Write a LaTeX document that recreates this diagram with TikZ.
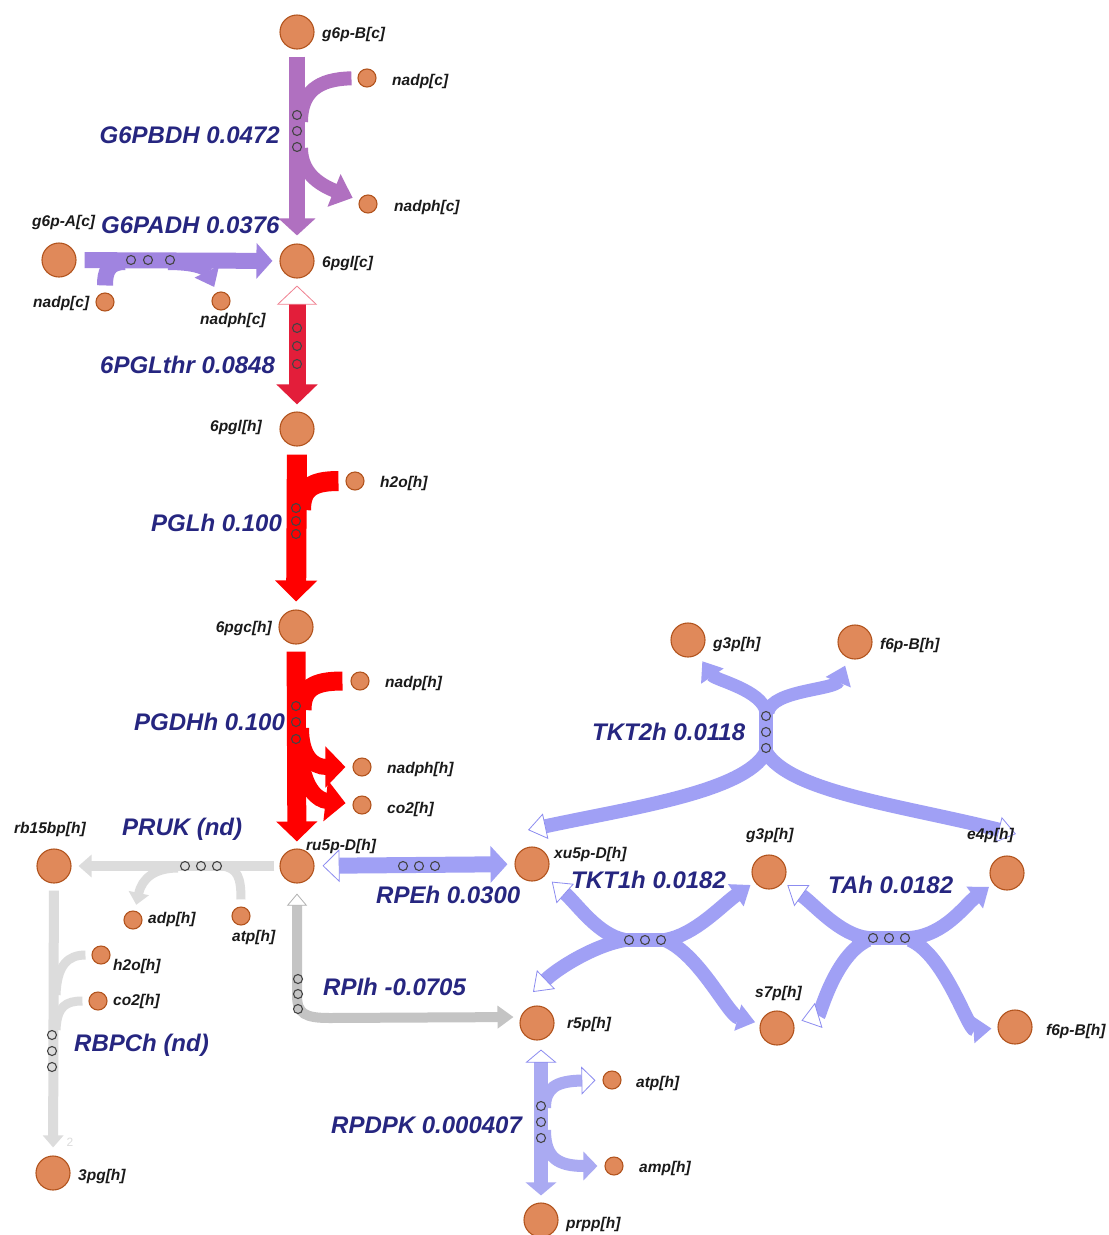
\documentclass[tikz,border=0pt]{standalone}
\usepackage{fontspec}
\newfontfamily\lsans{Liberation Sans}
\usetikzlibrary{arrows.meta}
\definecolor{metfill}{HTML}{E0895A}
\definecolor{metdraw}{HTML}{B2541E}
\definecolor{cB}{HTML}{B070C0}
\definecolor{cA}{HTML}{A084E0}
\definecolor{cC}{HTML}{E31E3A}
\definecolor{cCl}{HTML}{F08090}
\definecolor{cR}{HTML}{FF0000}
\definecolor{cP}{HTML}{A0A0F5}
\definecolor{cPd}{HTML}{8C8CF0}
\definecolor{cP2}{HTML}{AAAAF2}
\definecolor{cG}{HTML}{C4C4C4}
\definecolor{cGd}{HTML}{B0B0B0}
\definecolor{cL}{HTML}{DCDCDC}
\definecolor{navy}{HTML}{262680}
\definecolor{mtext}{HTML}{1A1A1A}
\definecolor{dotc}{HTML}{444444}
\begin{document}
\begin{tikzpicture}[x=1pt,y=-1pt,
  met/.style={circle,fill=metfill,draw=metdraw,line width=1.1pt,inner sep=0pt,minimum size=34pt},
  mets/.style={met,minimum size=18pt},
  ml/.style={font=\lsans\bfseries\itshape\fontsize{15.5}{18}\selectfont,text=mtext,inner sep=0pt},
  rl/.style={font=\lsans\bfseries\itshape\fontsize{24}{28}\selectfont,text=navy,inner sep=0pt},
  rdot/.style={circle,draw=dotc,line width=1.1pt,minimum size=9pt,inner sep=0pt},
  openP/.style={-{Triangle[open,fill=white,color=cPd,line width=0.8pt,length=18pt,width=26pt]}},
  fillP/.style={-{Triangle[length=18pt,width=26pt]}}
]
\fill[white] (0,0) rectangle (1109,1235);
\useasboundingbox (0,0) rectangle (1109,1235);

% ---------- metabolites ----------
\node[met] (g6pBc) at (297,32) {};
\node[mets] (nadpc1) at (367,78) {};
\node[mets] (nadphc1) at (368,204) {};
\node[met] (pglc) at (297,261) {};
\node[met] (g6pAc) at (59,260) {};
\node[mets] (nadpc2) at (105,302) {};
\node[mets] (nadphc2) at (221,301) {};
\node[met] (pglh) at (297,429) {};
\node[mets] (h2oh1) at (355,481) {};
\node[met] (pgch) at (296,627) {};
\node[mets] (nadph1) at (360,681) {};
\node[mets] (nadphh) at (362,767) {};
\node[mets] (co2h1) at (362,805) {};
\node[met] (ru5p) at (297,866) {};
\node[met] (rb15) at (54,866) {};
\node[mets] (adph) at (133,920) {};
\node[mets] (atph1) at (241,916) {};
\node[mets] (h2oh2) at (101,955) {};
\node[mets] (co2h2) at (98,1001) {};
\node[met] (pg3) at (53,1173) {};
\node[met] (xu5p) at (532,864) {};
\node[met] (r5p) at (537,1023) {};
\node[mets] (atph2) at (612,1080) {};
\node[mets] (amph) at (614,1166) {};
\node[met] (prpp) at (541,1220) {};
\node[met] (g3pA) at (688,640) {};
\node[met] (f6pA) at (855,642) {};
\node[met] (g3pB) at (769,872) {};
\node[met] (e4p) at (1007,873) {};
\node[met] (s7p) at (777,1028) {};
\node[met] (f6pB) at (1015,1027) {};

\coordinate (t2L) at (528,830);
\coordinate (t2R) at (1016,834);
\coordinate (t1c) at (533,992);

% ---------- G6PBDH ----------
\draw[cB, line width=16pt, shorten <=7pt, shorten >=8pt, -{Triangle[length=17pt,width=36pt]}] (g6pBc) -- (pglc);
\draw[cB, line width=14pt, shorten <=6pt] (nadpc1) .. controls (318,79) and (301,92) .. (301,122);
\draw[cB, line width=14pt, shorten >=7pt, -{Triangle[length=20pt,width=34pt]}] (301,148) .. controls (301,172) and (318,184) .. (nadphc1);

% ---------- G6PADH ----------
\draw[cA, line width=16pt, shorten <=8pt, shorten >=7pt, -{Triangle[length=16pt,width=35pt]}] (g6pAc) -- (pglc);
\draw[cA, line width=16pt, shorten <=7pt] (nadpc2) .. controls (105,272) and (108,262) .. (125,262);
\draw[cA, line width=12pt, shorten >=6pt, -{Triangle[length=17pt,width=26pt]}] (168,264) .. controls (192,264) and (205,268) .. (nadphc2);

% ---------- 6PGLthr ----------
\draw[cC, line width=17pt, shorten <=7pt, shorten >=7pt, {Triangle[open,fill=white,color=cCl,line width=0.8pt,length=19pt,width=40pt]}-{Triangle[length=20pt,width=40pt]}] (pglc) -- (pglh);

% ---------- PGLh ----------
\draw[cR, line width=20pt, shorten <=8pt, shorten >=8pt, -{Triangle[length=21pt,width=41pt]}] (pglh) -- (pgch);
\draw[cR, line width=20pt, shorten <=7pt] (h2oh1) .. controls (312,481) and (301,488) .. (301,510);

% ---------- PGDHh ----------
\draw[cR, line width=19pt, shorten <=7pt, shorten >=7pt, -{Triangle[length=20pt,width=40pt]}] (pgch) -- (ru5p);
\draw[cR, line width=19pt, shorten <=8pt] (nadph1) .. controls (314,681) and (302,688) .. (302,710);
\draw[cR, line width=16pt, shorten >=7pt, -{Triangle[length=20pt,width=40pt]}] (301,728) .. controls (301,755) and (312,767) .. (nadphh);
\draw[cR, line width=16pt, shorten >=7pt, -{Triangle[length=20pt,width=40pt]}] (301,760) .. controls (305,790) and (318,800) .. (co2h1);

% ---------- PRUK ----------
\draw[cL, line width=10pt, shorten <=5pt, shorten >=7pt, -{Triangle[length=13pt,width=22pt]}] (ru5p) -- (rb15);
\draw[cL, line width=9pt, shorten <=7pt] (atph1) .. controls (241,878) and (238,868) .. (222,866);
\draw[cL, line width=9pt, shorten >=6pt, -{Triangle[length=12pt,width=20pt]}] (178,868) .. controls (155,868) and (142,878) .. (adph);

% ---------- RBPCh ----------
\draw[cL, line width=10pt, shorten <=7pt, shorten >=8pt, -{Triangle[length=12pt,width=20pt]}] (rb15) -- (pg3);
\draw[cL, line width=9pt, shorten <=6pt] (h2oh2) .. controls (68,955) and (57,965) .. (56,995);
\draw[cL, line width=9pt, shorten <=6pt] (co2h2) .. controls (66,1001) and (57,1006) .. (56,1030);
\node[font=\lsans\fontsize{12}{14}\selectfont, text=cL, inner sep=0pt] (two) at (70,1142) {2};

% ---------- RPEh ----------
\draw[cP, line width=16pt, shorten <=8pt, shorten >=7pt, {Triangle[open,fill=white,color=cPd,line width=0.8pt,length=17pt,width=33pt]}-{Triangle[length=17pt,width=36pt]}] (ru5p) -- (xu5p);

% ---------- RPIh ----------
\draw[cG, line width=10pt, shorten <=10pt, shorten >=7pt, {Triangle[open,fill=white,color=cGd,line width=0.8pt,length=12pt,width=20pt]}-{Triangle[length=16pt,width=22pt]}] (ru5p) -- (297,995) .. controls (297,1014) and (305,1018) .. (330,1018) -- (r5p.160);

% ---------- RPDPK ----------
\draw[cP2, line width=14pt, shorten <=9pt, shorten >=7pt, {Triangle[open,fill=white,color=cPd,line width=0.8pt,length=13pt,width=31pt]}-{Triangle[length=13pt,width=30pt]}] ([xshift=4pt]r5p.south) -- (prpp);
\draw[cP2, line width=12pt, shorten >=7pt, -{Triangle[open,fill=white,color=cPd,line width=0.8pt,length=14pt,width=28pt]}] (545,1108) .. controls (545,1088) and (556,1081) .. (atph2);
\draw[cP2, line width=12pt, shorten >=7pt, -{Triangle[length=14pt,width=28pt]}] (545,1130) .. controls (545,1158) and (558,1166) .. (amph);

% ---------- TKT2h ----------
\draw[cP, line width=14pt] (766,700) -- (766,762);
\draw[cP, line width=13pt, shorten >=8pt, fillP] (766,712) .. controls (762,690) and (715,680) .. (g3pA);
\draw[cP, line width=13pt, shorten >=8pt, fillP] (768,712) .. controls (772,690) and (835,690) .. (f6pA);
\draw[cP, line width=14pt, openP] (766,752) .. controls (745,792) and (630,808) .. (t2L);
\draw[cP, line width=14pt, openP] (766,752) .. controls (790,792) and (900,805) .. (t2R);

% ---------- TKT1h ----------
\draw[cP, line width=14pt] (608,940) -- (682,940);
\draw[cP, line width=14pt, shorten >=9pt, openP] (625,940) .. controls (598,935) and (578,905) .. (xu5p);
\draw[cP, line width=14pt, shorten >=5pt, fillP] (665,940) .. controls (695,935) and (722,905) .. (g3pB);
\draw[cP, line width=14pt, openP] (625,940) .. controls (595,945) and (558,968) .. (t1c);
\draw[cP, line width=14pt, shorten >=5pt, fillP] (665,940) .. controls (700,955) and (728,1015) .. (s7p);

% ---------- TAh ----------
\draw[cP, line width=14pt] (852,938) -- (926,938);
\draw[cP, line width=14pt, shorten >=5pt, openP] (868,938) .. controls (840,935) and (815,905) .. (g3pB);
\draw[cP, line width=14pt, shorten >=5pt, fillP] (910,938) .. controls (945,935) and (965,905) .. (e4p);
\draw[cP, line width=14pt, shorten >=8pt, openP] (868,940) .. controls (835,955) and (820,1015) .. (s7p);
\draw[cP, line width=14pt, shorten >=6pt, fillP] (910,940) .. controls (945,955) and (968,1030) .. (f6pB);

% ---------- reaction dots ----------
\foreach \n/\x/\y in {a1/297/115,a2/297/131,a3/297/147,
  b1/131/260,b2/148/260,b3/170/260,
  c1/297/328,c2/297/346,c3/297/364,
  d1/296/508,d2/296/521,d3/296/534,
  e1/296/706,e2/296/722,e3/296/739,
  f1/185/866,f2/201/866,f3/217/866,
  g1/52/1035,g2/52/1051,g3/52/1067,
  h1/403/866,h2/419/866,h3/435/866,
  i1/298/979,i2/298/994,i3/298/1009,
  j1/541/1106,j2/541/1122,j3/541/1138,
  k1/766/716,k2/766/732,k3/766/748,
  l1/629/940,l2/645/940,l3/661/940,
  m1/873/938,m2/889/938,m3/905/938}
  \node[rdot] (dot\n) at (\x,\y) {};

% ---------- metabolite labels ----------
\node[ml,anchor=west] (Lg6pBc) at (322,34) {g6p-B[c]};
\node[ml,anchor=west] (Lnadpc1) at (392,81) {nadp[c]};
\node[ml,anchor=west] (Lnadphc1) at (394,207) {nadph[c]};
\node[ml,anchor=west] (Lpglc) at (322,263) {6pgl[c]};
\node[ml,anchor=west] (Lg6pAc) at (32,222) {g6p-A[c]};
\node[ml,anchor=west] (Lnadpc2) at (33,303) {nadp[c]};
\node[ml,anchor=west] (Lnadphc2) at (200,320) {nadph[c]};
\node[ml,anchor=east] (Lpglh) at (262,427) {6pgl[h]};
\node[ml,anchor=west] (Lh2oh1) at (380,483) {h2o[h]};
\node[ml,anchor=east] (Lpgch) at (272,628) {6pgc[h]};
\node[ml,anchor=west] (Lnadph1) at (385,683) {nadp[h]};
\node[ml,anchor=west] (Lnadphh) at (387,769) {nadph[h]};
\node[ml,anchor=west] (Lco2h1) at (387,809) {co2[h]};
\node[ml,anchor=west] (Lru5p) at (306,846) {ru5p-D[h]};
\node[ml,anchor=west] (Lrb15) at (14,829) {rb15bp[h]};
\node[ml,anchor=west] (Ladph) at (148,919) {adp[h]};
\node[ml,anchor=west] (Latph1) at (232,937) {atp[h]};
\node[ml,anchor=west] (Lh2oh2) at (113,966) {h2o[h]};
\node[ml,anchor=west] (Lco2h2) at (113,1001) {co2[h]};
\node[ml,anchor=west] (Lpg3) at (78,1176) {3pg[h]};
\node[ml,anchor=west] (Lxu5p) at (554,854) {xu5p-D[h]};
\node[ml,anchor=west] (Lr5p) at (567,1024) {r5p[h]};
\node[ml,anchor=west] (Latph2) at (636,1083) {atp[h]};
\node[ml,anchor=west] (Lamph) at (639,1168) {amp[h]};
\node[ml,anchor=west] (Lprpp) at (566,1224) {prpp[h]};
\node[ml,anchor=west] (Lg3pA) at (713,644) {g3p[h]};
\node[ml,anchor=west] (Lf6pA) at (880,645) {f6p-B[h]};
\node[ml,anchor=west] (Lg3pB) at (746,835) {g3p[h]};
\node[ml,anchor=west] (Le4p) at (967,835) {e4p[h]};
\node[ml,anchor=west] (Ls7p) at (755,993) {s7p[h]};
\node[ml,anchor=west] (Lf6pB) at (1046,1031) {f6p-B[h]};

% ---------- reaction labels ----------
\node[rl,anchor=east] (R1) at (280,135) {G6PBDH 0.0472};
\node[rl,anchor=west] (R2) at (101,225) {G6PADH 0.0376};
\node[rl,anchor=west] (R3) at (100,365) {6PGLthr 0.0848};
\node[rl,anchor=west] (R4) at (151,523) {PGLh 0.100};
\node[rl,anchor=west] (R5) at (134,722) {PGDHh 0.100};
\node[rl,anchor=west] (R6) at (122,829) {PRUK (nd)};
\node[rl,anchor=west] (R7) at (376,895) {RPEh 0.0300};
\node[rl,anchor=west] (R8) at (323,987) {RPIh -0.0705};
\node[rl,anchor=west] (R9) at (74,1045) {RBPCh (nd)};
\node[rl,anchor=west] (R10) at (331,1125) {RPDPK 0.000407};
\node[rl,anchor=west] (R11) at (592,732) {TKT2h 0.0118};
\node[rl,anchor=west] (R12) at (571,880) {TKT1h 0.0182};
\node[rl,anchor=west] (R13) at (828,885) {TAh 0.0182};
\end{tikzpicture}
\end{document}
